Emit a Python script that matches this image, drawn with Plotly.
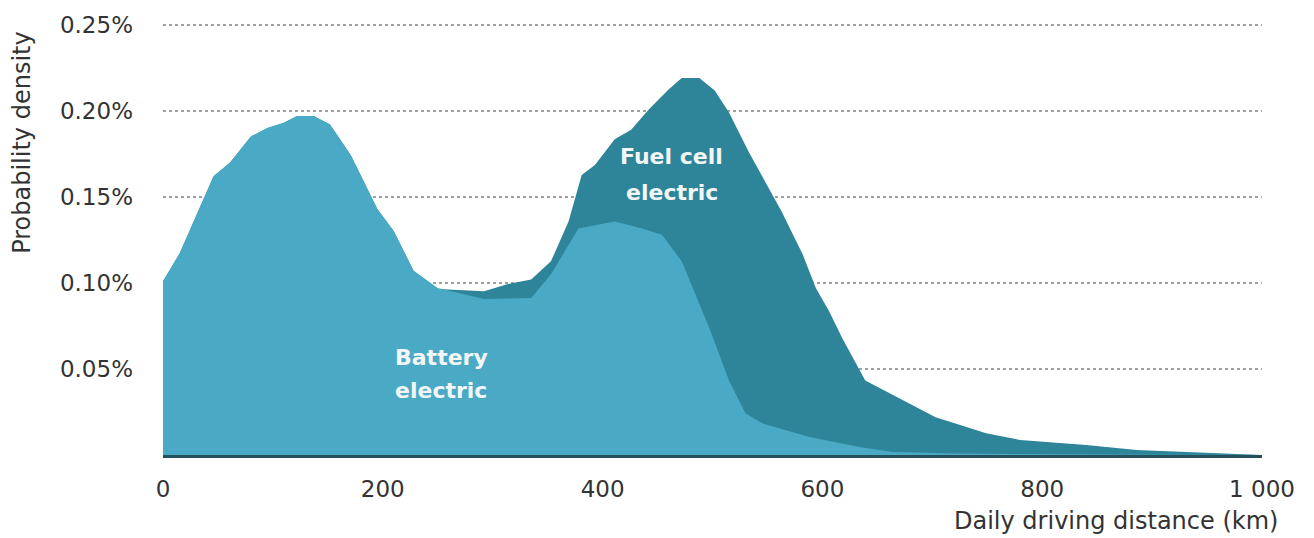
import plotly.graph_objects as go

# Battery electric density (km, %)
battery_km = [0, 15, 46, 61, 80, 95, 110, 122, 137, 152, 171, 195, 210, 228, 250, 271, 292,
              335, 353, 378, 411, 436, 454, 472, 497, 515, 530, 545, 588, 634, 664, 720, 800, 900, 1000]
battery_pct = [0.101, 0.117, 0.162, 0.170, 0.185, 0.190, 0.193, 0.197, 0.197, 0.192, 0.174, 0.143,
               0.130, 0.107, 0.097, 0.094, 0.0906, 0.0912, 0.105, 0.1316, 0.1356, 0.1316, 0.128,
               0.1125, 0.0739, 0.0433, 0.0242, 0.0185, 0.0104, 0.0046, 0.0017, 0.0008, 0.0003, 0.0001, 0.0]

# Fuel cell electric density (km, %)
fuel_km = [0, 15, 46, 61, 80, 95, 110, 122, 137, 152, 171, 195, 210, 228, 250, 292, 314, 335, 353,
           369, 381, 393, 411, 426, 442, 460, 472, 488, 502, 515, 533, 552, 563, 582, 594, 606, 618,
           639, 673, 703, 749, 780, 840, 886, 1000]
fuel_pct = [0.101, 0.117, 0.162, 0.170, 0.185, 0.190, 0.193, 0.197, 0.197, 0.192, 0.174, 0.143,
            0.130, 0.107, 0.0965, 0.0952, 0.0993, 0.102, 0.1125, 0.1356, 0.1627, 0.1685, 0.1835,
            0.189, 0.2008, 0.2123, 0.219, 0.219, 0.2118, 0.199, 0.176, 0.1546, 0.1414, 0.1166,
            0.097, 0.0837, 0.068, 0.0433, 0.0317, 0.0219, 0.0127, 0.0087, 0.0058, 0.0029, 0.0]

x_ticks = [0, 200, 400, 600, 800, 1000]
x_tick_labels = ["0", "200", "400", "600", "800", "1 000"]
y_ticks = [0.05, 0.10, 0.15, 0.20, 0.25]
y_tick_labels = ["0.05%", "0.10%", "0.15%", "0.20%", "0.25%"]

FONT = "DejaVu Sans"
TXT = "#333333"
LBL = "#F2F6F7"

fig = go.Figure()
fig.add_trace(go.Scatter(x=fuel_km, y=fuel_pct, mode="lines", fill="tozeroy",
                         line=dict(width=0, color="#2E8498"), fillcolor="#2E8498",
                         name="Fuel cell electric", hoverinfo="skip"))
fig.add_trace(go.Scatter(x=battery_km, y=battery_pct, mode="lines", fill="tozeroy",
                         line=dict(width=0, color="#4AAAC5"), fillcolor="#4AAAC5",
                         name="Battery electric", hoverinfo="skip"))

fig.update_layout(
    width=1314, height=538,
    margin=dict(l=163, r=52, t=20, b=83),
    paper_bgcolor="white", plot_bgcolor="white",
    showlegend=False,
    font=dict(family=FONT, size=22, color=TXT),
    xaxis=dict(range=[0, 1000], tickvals=x_ticks, ticktext=x_tick_labels,
               showgrid=False, zeroline=False, showline=True, linecolor="#244F5B", linewidth=3,
               ticks="", ticklabelstandoff=11, tickfont=dict(family=FONT, size=23, color=TXT)),
    yaxis=dict(range=[0, 0.251], tickvals=y_ticks, ticktext=y_tick_labels,
               showgrid=True, gridcolor="#a0a0a0", griddash="dot", gridwidth=1.5,
               zeroline=False, showline=False, ticks="", ticklabelstandoff=29,
               tickfont=dict(family=FONT, size=23, color=TXT)),
    annotations=[
        dict(text="Probability density", xref="paper", yref="paper", x=-0.1283, y=0.725,
             textangle=-90, showarrow=False, font=dict(family=FONT, size=24, color=TXT),
             xanchor="center", yanchor="middle"),
        dict(text="Daily driving distance (km)", xref="paper", yref="paper", x=1.016, y=-0.152,
             showarrow=False, font=dict(family=FONT, size=24, color=TXT),
             xanchor="right", yanchor="middle"),
        dict(text="<b>Battery</b>", x=209, y=0.0566, showarrow=False,
             font=dict(family=FONT, size=22, color=LBL), xanchor="left", yanchor="middle"),
        dict(text="<b>electric</b>", x=209, y=0.0375, showarrow=False,
             font=dict(family=FONT, size=22, color=LBL), xanchor="left", yanchor="middle"),
        dict(text="<b>Fuel cell</b>", x=463, y=0.1732, showarrow=False,
             font=dict(family=FONT, size=22, color=LBL), xanchor="center", yanchor="middle"),
        dict(text="<b>electric</b>", x=463, y=0.1524, showarrow=False,
             font=dict(family=FONT, size=22, color=LBL), xanchor="center", yanchor="middle"),
    ],
)

fig.write_html("out.html", config={"displayModeBar": False},
               post_script="document.body.style.margin='0';")
